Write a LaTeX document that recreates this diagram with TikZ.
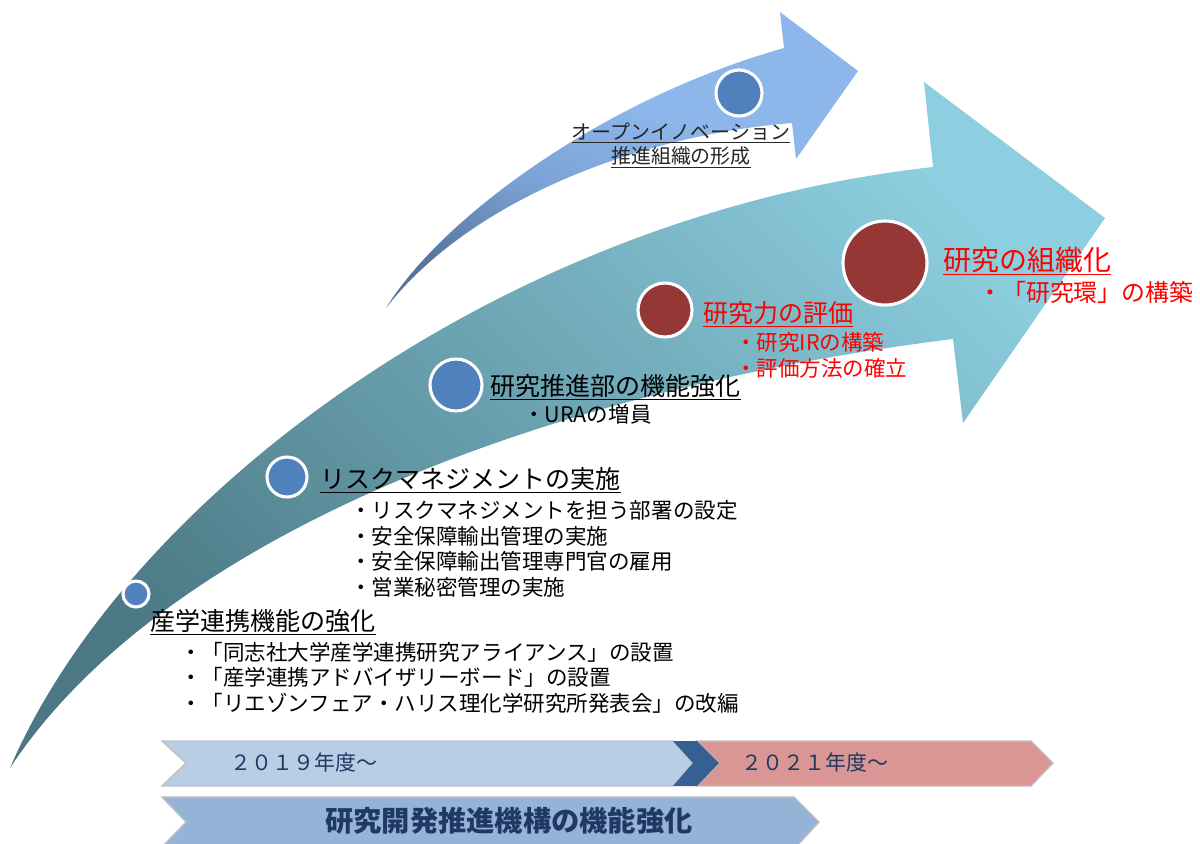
\documentclass[tikz,border=0pt]{standalone}
\usepackage{fontspec}
\setmainfont{Noto Sans CJK JP}
\newfontfamily\jp{Noto Sans CJK JP}
\definecolor{tealD}{HTML}{4B7884}
\definecolor{tealL}{HTML}{8DCFE0}
\definecolor{blueL}{HTML}{8DB6EA}
\definecolor{blueM}{HTML}{7AA2D4}
\definecolor{blueD}{HTML}{56779C}
\definecolor{dotblue}{HTML}{4F81BD}
\definecolor{dotred}{HTML}{953735}
\definecolor{barA}{HTML}{B9CDE5}
\definecolor{barB}{HTML}{95B3D7}
\definecolor{barpink}{HTML}{D99694}
\definecolor{chev}{HTML}{366092}
\definecolor{navy}{HTML}{1F3864}
\definecolor{barline}{HTML}{BFBFBF}
\definecolor{txtgray}{HTML}{262626}
\definecolor{redtxt}{HTML}{FF0000}
\pgfdeclareverticalshading{bluearrowshade}{100bp}{color(0bp)=(blueD); color(27bp)=(blueD); color(42bp)=(blueM); color(58bp)=(blueL); color(100bp)=(blueL)}
\begin{document}
\begin{tikzpicture}[x=0.025cm,y=-0.025cm,
  dot/.style={circle, draw=white, line width=2.2pt, inner sep=0pt},
  headtxt/.style={anchor=west, inner sep=0pt, font=\jp\fontsize{17.8}{20}\selectfont, text=black},
  itemtxt/.style={anchor=west, inner sep=0pt, font=\jp\fontsize{15.3}{18}\selectfont, text=black},
  redhead/.style={headtxt, text=redtxt},
  reditem/.style={itemtxt, text=redtxt},
  toptxt/.style={anchor=center, inner sep=0pt, font=\jp\fontsize{14.2}{17}\selectfont, text=txtgray},
  yeartxt/.style={anchor=center, inner sep=0pt, font=\jp\fontsize{14.9}{17}\selectfont, text=navy},
  barshape/.style={draw=barline, line width=1pt}
]
\useasboundingbox (0,0) rectangle (1200,843);
\clip (0,0) rectangle (1200,843);

% big teal curved arrow
\shade[bottom color=tealD, top color=tealL, shading angle=-45]
  (10,768) .. controls (125,500) and (500,215) .. (933,167)
  -- (924,82) -- (1105,218) -- (963,423) -- (953,339)
  .. controls (540,390) and (160,540) .. (10,768)
  -- cycle;

% upper blue curved arrow
\shade[shading=bluearrowshade, shading angle=-20]
  (386,308) .. controls (440,220) and (600,100) .. (784,48)
  -- (780,12) -- (858,71) -- (796,159) -- (792,123)
  .. controls (640,135) and (470,200) .. (386,308)
  -- cycle;

% circles
\node[dot, fill=dotblue, minimum size=1.15cm] (c0) at (739,93) {};
\node[dot, fill=dotblue, minimum size=0.65cm] (c1) at (136,594) {};
\node[dot, fill=dotblue, minimum size=1.0cm] (c2) at (287,477) {};
\node[dot, fill=dotblue, minimum size=1.3cm] (c3) at (456,385) {};
\node[dot, fill=dotred, minimum size=1.35cm] (c4) at (665,310) {};
\node[dot, fill=dotred, minimum size=2.1cm] (c5) at (885,263) {};

% top arrow text
\node[toptxt] (t0a) at (681,133) {\underline{オープンイノベーション}};
\node[toptxt] (t0b) at (681,157) {\underline{推進組織の形成}};

% 産学連携
\node[headtxt] (h1) at (150,622) {\underline{産学連携機能の強化}};
\node[itemtxt] (i11) at (180,652) {・「同志社大学産学連携研究アライアンス」の設置};
\node[itemtxt] (i12) at (180,677) {・「産学連携アドバイザリーボード」の設置};
\node[itemtxt] (i13) at (180,703) {・「リエゾンフェア・ハリス理化学研究所発表会」の改編};

% リスクマネジメント
\node[headtxt] (h2) at (320,480) {\underline{リスクマネジメントの実施}};
\node[itemtxt] (i21) at (350,510) {・リスクマネジメントを担う部署の設定};
\node[itemtxt] (i22) at (350,536) {・安全保障輸出管理の実施};
\node[itemtxt] (i23) at (350,561) {・安全保障輸出管理専門官の雇用};
\node[itemtxt] (i24) at (350,587) {・営業秘密管理の実施};

% 研究推進部
\node[headtxt] (h3) at (490,387) {\underline{研究推進部の機能強化}};
\node[itemtxt] (i31) at (523,414) {・URAの増員};

% 研究力の評価
\node[redhead] (h4) at (703,314) {\underline{研究力の評価}};
\node[reditem] (i41) at (735,342) {・研究IRの構築};
\node[reditem] (i42) at (735,368) {・評価方法の確立};

% 研究の組織化
\node[redhead, font=\jp\fontsize{19.9}{23}\selectfont] (h5) at (943,261) {\underline{研究の組織化}};
\node[reditem, font=\jp\fontsize{17}{20}\selectfont] (i51) at (978,292) {・「研究環」の構築};

% bottom bars
\path[fill=barA, barshape] (162,741) -- (673,741) -- (693,763) -- (673,786) -- (162,786) -- (186,763) -- cycle;
\path[fill=barpink, barshape] (697,741) -- (1031,741) -- (1053,763) -- (1031,786) -- (697,786) -- (719,763) -- cycle;
\path[fill=chev] (673,741) -- (697,741) -- (719,763) -- (697,786) -- (673,786) -- (693,763) -- cycle;
\path[fill=barB, barshape] (162,797) -- (794,797) -- (819,822) -- (796,847) -- (162,847) -- (186,822) -- cycle;

\node[yeartxt] (y1) at (304,763) {２０１９年度～};
\node[yeartxt] (y2) at (815,763) {２０２１年度～};
\node[anchor=center, inner sep=0pt, font=\jp\bfseries\fontsize{20.1}{23}\selectfont, text=navy] (b1) at (509,821) {研究開発推進機構の機能強化};
\end{tikzpicture}
\end{document}
